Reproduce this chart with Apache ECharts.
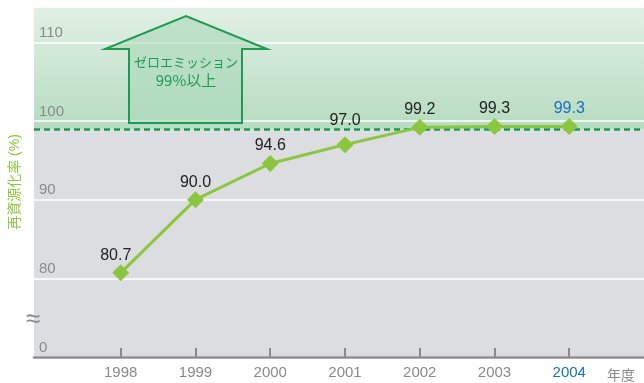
<!DOCTYPE html>
<html>
<head>
<meta charset="utf-8">
<script src="https://cdn.jsdelivr.net/npm/echarts@6/dist/echarts.min.js"></script>
<style>
  html, body { margin: 0; padding: 0; background: #fff; }
  #chart { width: 644px; height: 383px; }
</style>
</head>
<body>
<div id="chart"></div>
<script>
// 年度と再資源化率
const years = [1998, 1999, 2000, 2001, 2002, 2003, 2004];
const rates = [80.7, 90.0, 94.6, 97.0, 99.2, 99.3, 99.3];
const yTicks = [70, 80, 90, 100, 110]; // 70 は軸の省略部分で「0」と表示
const yMax = 114.5;
const target = 99;

const green = "#8cc63f";
const darkGreen = "#1e9a55";
const gray = "#8a8a8a";
const blue = "#1a6fbf";
const lastYear = years[years.length - 1];

const chart = echarts.init(document.getElementById("chart"));

const option = {
  animation: false,
  textStyle: { fontFamily: "Liberation Sans, Noto Sans CJK JP, sans-serif" },
  grid: {
    left: 33,
    right: 0,
    top: 7,
    bottom: 26,
    show: true,
    backgroundColor: "#dcdde0",
    borderWidth: 0,
  },
  xAxis: {
    type: "value",
    min: 1996.84,
    max: 2005,
    z: 2,
    axisLine: { lineStyle: { color: "#8e8e8e", width: 2.5 } },
    axisTick: {
      customValues: years,
      inside: true,
      length: 9,
      lineStyle: { color: gray, width: 2 },
    },
    axisLabel: {
      customValues: years,
      fontSize: 15,
      margin: 8,
      formatter: (v) => String(v),
      color: (v) => (Number(v) === lastYear ? blue : gray),
    },
    splitLine: { show: false },
  },
  yAxis: {
    type: "value",
    min: yTicks[0],
    max: yMax,
    interval: 10,
    z: 2,
    name: "再資源化率 (%)",
    nameLocation: "middle",
    nameRotate: 90,
    nameGap: 12,
    nameTextStyle: { color: green, fontSize: 14 },
    axisLine: { show: false },
    axisTick: { show: false },
    axisLabel: {
      inside: true,
      margin: 5,
      fontSize: 15,
      color: gray,
      verticalAlign: "bottom",
      padding: [0, 0, 2, 0],
      showMaxLabel: false,
      formatter: (v) => (v === yTicks[0] ? "0" : String(v)),
    },
    splitLine: { lineStyle: { color: "#ffffff", width: 1.5 } },
  },
  graphic: [
    {
      type: "polygon",
      z: 10,
      shape: {
        points: [
          [129, 123], [129, 49], [105, 49], [186, 16],
          [267, 49], [242, 49], [242, 123],
        ],
      },
      style: { fill: "rgba(170,216,185,0.6)", stroke: darkGreen, lineWidth: 2 },
    },
    {
      type: "text",
      z: 11,
      x: 186,
      y: 62,
      style: {
        text: "ゼロエミッション",
        fill: darkGreen,
        fontSize: 13,
        fontFamily: "Noto Sans CJK JP",
        align: "center",
        verticalAlign: "middle",
      },
    },
    {
      type: "text",
      z: 11,
      x: 186,
      y: 80,
      style: {
        text: "99%以上",
        fill: darkGreen,
        fontSize: 15,
        fontFamily: "Noto Sans CJK JP",
        align: "center",
        verticalAlign: "middle",
      },
    },
    {
      type: "text",
      z: 11,
      x: 33,
      y: 320,
      style: {
        text: "≈",
        fill: gray,
        fontSize: 26,
        align: "center",
        verticalAlign: "middle",
      },
    },
    {
      type: "text",
      z: 11,
      x: 607,
      y: 375,
      style: {
        text: "年度",
        fill: gray,
        fontSize: 14,
        fontFamily: "Noto Sans CJK JP",
        verticalAlign: "middle",
      },
    },
  ],
  series: [
    {
      // 99%以上の目標ゾーン
      type: "line",
      z: 1,
      data: [],
      silent: true,
      markArea: {
        silent: true,
        itemStyle: {
          color: new echarts.graphic.LinearGradient(0, 0, 0, 1, [
            { offset: 0, color: "#e2f0e5" },
            { offset: 1, color: "#b6dcc1" },
          ]),
        },
        data: [[{ yAxis: target }, { yAxis: yMax }]],
      },
    },
    {
      name: "再資源化率",
      type: "line",
      z: 5,
      data: years.map((y, i) => ({
        value: [y, rates[i]],
        label: {
          color: y === lastYear ? blue : "#222222",
          distance: y === 2001 ? 8 : 1,
          offset: y === 1998 ? [-5, 0] : [0, 0],
        },
      })),
      lineStyle: { color: green, width: 3 },
      itemStyle: { color: green },
      symbol: "diamond",
      symbolSize: 17,
      label: {
        show: true,
        position: "top",
        fontSize: 16,
        formatter: (p) => p.value[1].toFixed(1),
      },
      markLine: {
        silent: true,
        symbol: "none",
        label: { show: false },
        lineStyle: { color: darkGreen, type: [6, 4], width: 2.5 },
        data: [{ yAxis: target }],
      },
    },
  ],
};

chart.setOption(option);
</script>
</body>
</html>
